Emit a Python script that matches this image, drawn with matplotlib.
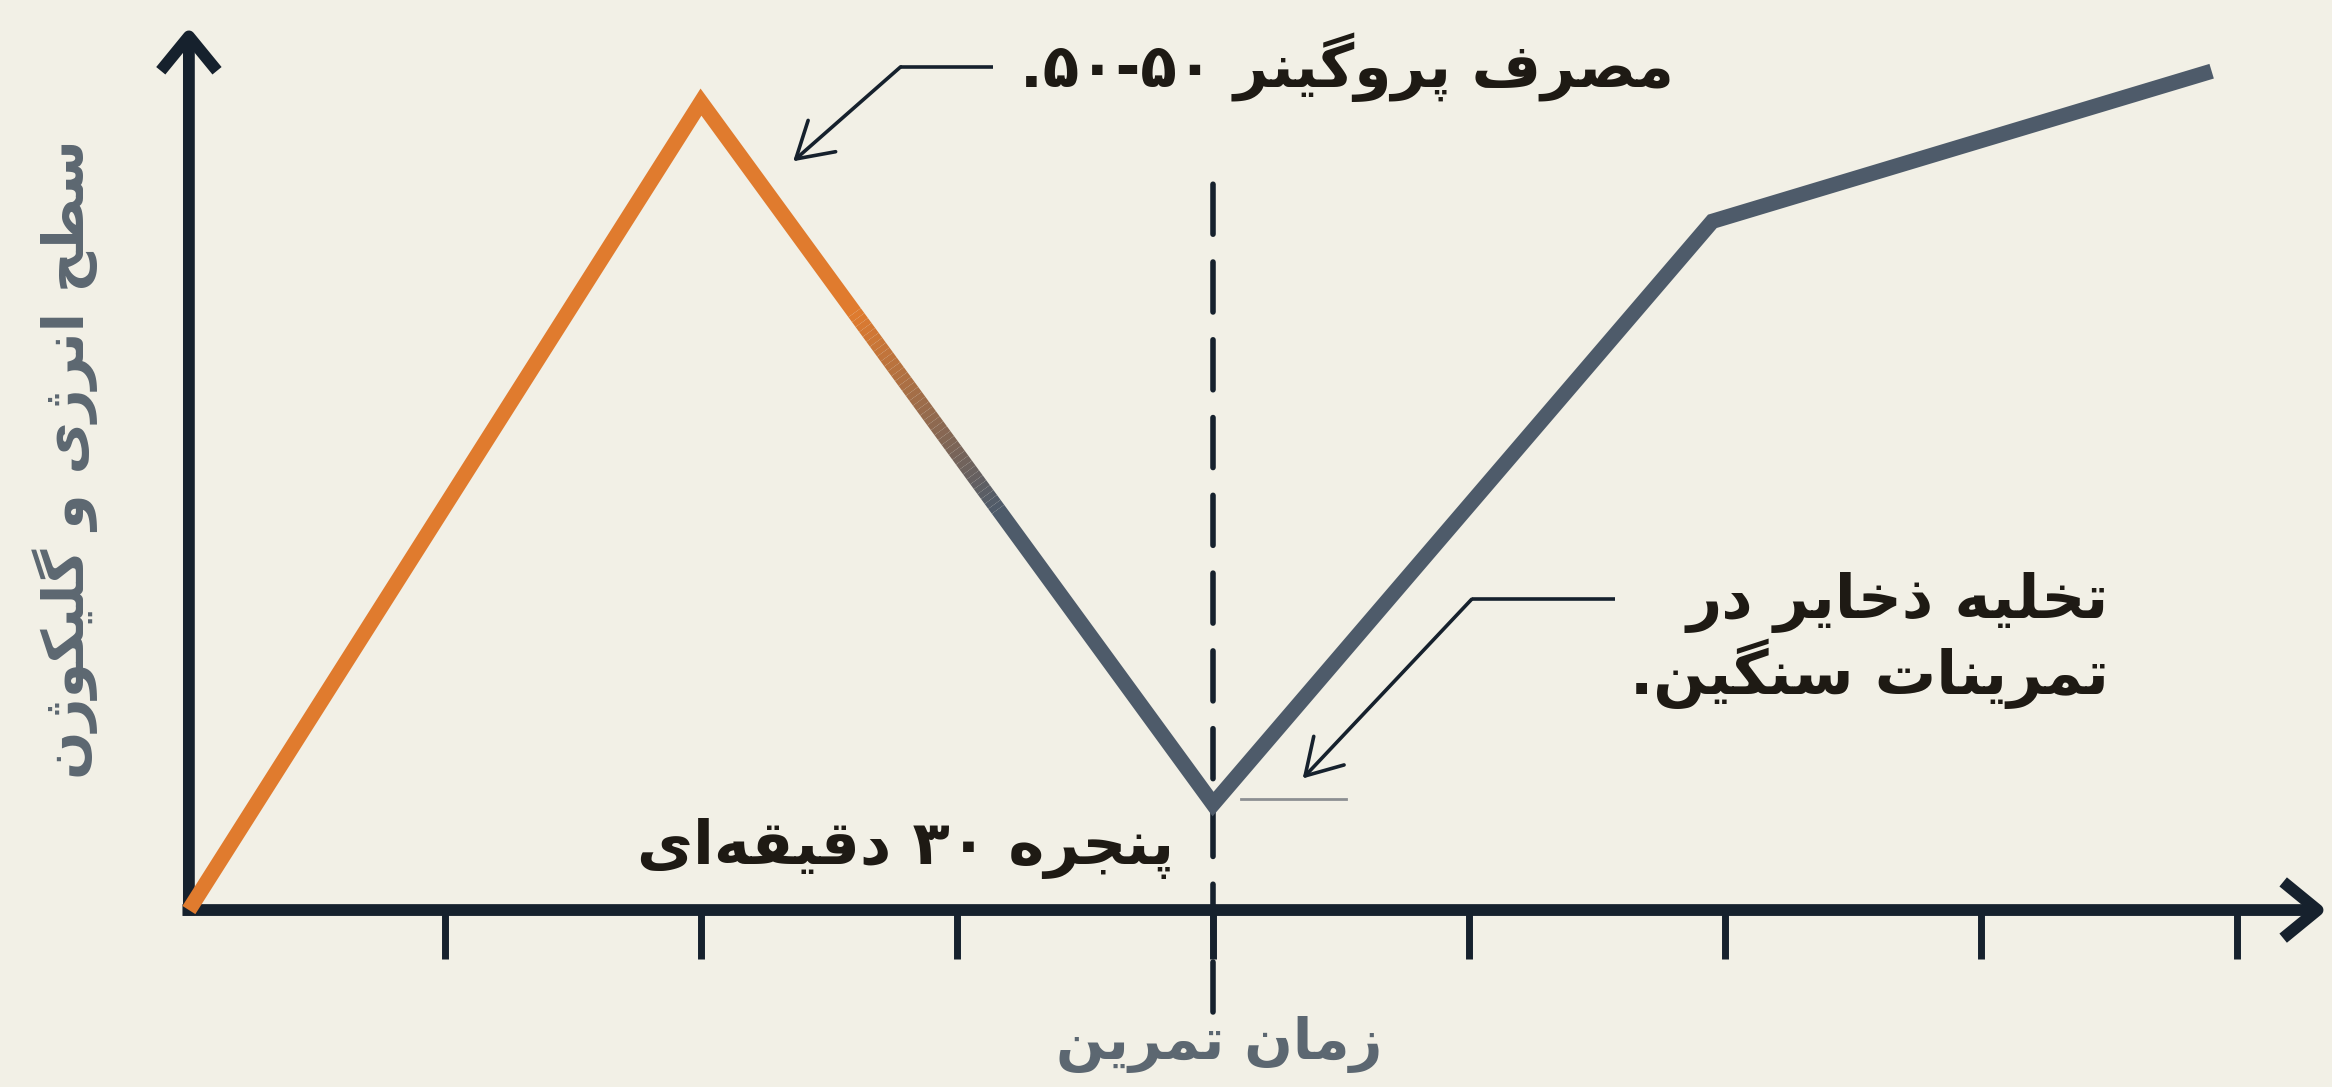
import re
import matplotlib
matplotlib.use("Agg")
import matplotlib.pyplot as plt
from matplotlib.collections import LineCollection
from matplotlib.colors import to_rgb
import numpy as np

# ---- data ----
time_pts = [0, 2, 4, 5.95, 7.9]
energy = [0, 91.5, 12, 78, 95]
tick_pos = [1, 2, 3, 4, 5, 6, 7, 8]
window_x = 4

title_peak = "مصرف پروگینر ۵۰-۵۰."
title_window = "پنجره ۳۰ دقیقه‌ای"
title_drain = ["تخلیه ذخایر در", "تمرینات سنگین."]
xlabel = "زمان تمرین"
ylabel = "سطح انرژی و گلیکوژن"

# colours
bg = "#F2F0E6"
navy = "#16212D"
orange = "#E07B2E"
slate = "#4E5B6A"
label_grey = "#5C6771"
ink = "#1E1A14"

# ---- tiny arabic/persian shaper (no arabic_reshaper available) ----
DUAL = {
    0x0628: (0xFE8F, 0xFE90, 0xFE91, 0xFE92),
    0x067E: (0xFB56, 0xFB57, 0xFB58, 0xFB59),
    0x062A: (0xFE95, 0xFE96, 0xFE97, 0xFE98),
    0x062B: (0xFE99, 0xFE9A, 0xFE9B, 0xFE9C),
    0x062C: (0xFE9D, 0xFE9E, 0xFE9F, 0xFEA0),
    0x0686: (0xFB7A, 0xFB7B, 0xFB7C, 0xFB7D),
    0x062D: (0xFEA1, 0xFEA2, 0xFEA3, 0xFEA4),
    0x062E: (0xFEA5, 0xFEA6, 0xFEA7, 0xFEA8),
    0x0633: (0xFEB1, 0xFEB2, 0xFEB3, 0xFEB4),
    0x0634: (0xFEB5, 0xFEB6, 0xFEB7, 0xFEB8),
    0x0635: (0xFEB9, 0xFEBA, 0xFEBB, 0xFEBC),
    0x0636: (0xFEBD, 0xFEBE, 0xFEBF, 0xFEC0),
    0x0637: (0xFEC1, 0xFEC2, 0xFEC3, 0xFEC4),
    0x0638: (0xFEC5, 0xFEC6, 0xFEC7, 0xFEC8),
    0x0639: (0xFEC9, 0xFECA, 0xFECB, 0xFECC),
    0x063A: (0xFECD, 0xFECE, 0xFECF, 0xFED0),
    0x0641: (0xFED1, 0xFED2, 0xFED3, 0xFED4),
    0x0642: (0xFED5, 0xFED6, 0xFED7, 0xFED8),
    0x06A9: (0xFB8E, 0xFB8F, 0xFB90, 0xFB91),
    0x0643: (0xFED9, 0xFEDA, 0xFEDB, 0xFEDC),
    0x06AF: (0xFB92, 0xFB93, 0xFB94, 0xFB95),
    0x0644: (0xFEDD, 0xFEDE, 0xFEDF, 0xFEE0),
    0x0645: (0xFEE1, 0xFEE2, 0xFEE3, 0xFEE4),
    0x0646: (0xFEE5, 0xFEE6, 0xFEE7, 0xFEE8),
    0x0647: (0xFEE9, 0xFEEA, 0xFEEB, 0xFEEC),
    0x06CC: (0xFBFC, 0xFBFD, 0xFBFE, 0xFBFF),
    0x064A: (0xFEF1, 0xFEF2, 0xFEF3, 0xFEF4),
}
RIGHT = {
    0x0627: (0xFE8D, 0xFE8E),
    0x0622: (0xFE81, 0xFE82),
    0x062F: (0xFEA9, 0xFEAA),
    0x0630: (0xFEAB, 0xFEAC),
    0x0631: (0xFEAD, 0xFEAE),
    0x0632: (0xFEAF, 0xFEB0),
    0x0698: (0xFB8A, 0xFB8B),
    0x0648: (0xFEED, 0xFEEE),
    0x0629: (0xFE93, 0xFE94),
}


def fa(text):
    chars = list(text)
    out = []
    for i, c in enumerate(chars):
        cp = ord(c)
        prev = chars[i - 1] if i > 0 else ""
        nxt = chars[i + 1] if i < len(chars) - 1 else ""
        joinable = cp in DUAL or cp in RIGHT
        conn_prev = prev != "" and ord(prev) in DUAL and joinable
        if cp in DUAL:
            conn_next = nxt != "" and (ord(nxt) in DUAL or ord(nxt) in RIGHT)
            f = DUAL[cp]
            if conn_prev and conn_next:
                out.append(chr(f[3]))
            elif conn_prev:
                out.append(chr(f[1]))
            elif conn_next:
                out.append(chr(f[2]))
            else:
                out.append(chr(f[0]))
        elif cp in RIGHT:
            out.append(chr(RIGHT[cp][1] if conn_prev else RIGHT[cp][0]))
        elif cp == 0x200C:
            continue
        else:
            out.append(c)
    s = "".join(out)[::-1]
    # numbers stay left-to-right
    s = re.sub("[0-9\u06F0-\u06F9]+(?:-[0-9\u06F0-\u06F9]+)*", lambda m: m.group()[::-1], s)
    return s


plt.rcParams["font.family"] = ["DejaVu Sans"]

fig = plt.figure(figsize=(23.32, 10.87), dpi=100, facecolor=bg)
ax = fig.add_axes([0.081, 0.1628, 0.9168, 0.8123])
ax.set_facecolor(bg)
ax.set_xlim(0, 8.35)
ax.set_ylim(0, 100)
for s in ax.spines.values():
    s.set_visible(False)

# axes with arrow heads
arrow_kw = dict(arrowstyle="->,head_length=0.55,head_width=0.45", mutation_scale=45,
                lw=8.5, color=navy, shrinkA=0, shrinkB=0, capstyle="butt")
ax.annotate("", xy=(1, 0), xytext=(-0.003, 0), xycoords="axes fraction", arrowprops=arrow_kw)
ax.annotate("", xy=(0, 1), xytext=(0, -0.006), xycoords="axes fraction", arrowprops=arrow_kw)

ax.set_xticks(tick_pos)
ax.set_yticks([])
ax.tick_params(axis="x", direction="out", length=35, width=5, color=navy,
               labelbottom=False)

# the curve: orange rise, gradient on the way down, slate after
t0, t1 = 0.30, 0.58
x1, y1, x2, y2 = time_pts[1], energy[1], time_pts[2], energy[2]
ga = (x1 + t0 * (x2 - x1), y1 + t0 * (y2 - y1))
gb = (x1 + t1 * (x2 - x1), y1 + t1 * (y2 - y1))
lw = 11
ax.plot([time_pts[0], x1, ga[0]], [energy[0], y1, ga[1]], color=orange, lw=lw,
        solid_joinstyle="miter", solid_capstyle="butt", clip_on=False, zorder=3)
ax.plot([gb[0]] + time_pts[2:], [gb[1]] + energy[2:], color=slate, lw=lw,
        solid_joinstyle="miter", solid_capstyle="butt", clip_on=False, zorder=3)
n = 40
ts = np.linspace(0, 1, n + 1)
gx = ga[0] + ts * (gb[0] - ga[0])
gy = ga[1] + ts * (gb[1] - ga[1])
segs = [[(gx[i], gy[i]), (gx[i + 1], gy[i + 1])] for i in range(n)]
c0, c1 = np.array(to_rgb(orange)), np.array(to_rgb(slate))
cols = [c0 + (c1 - c0) * (i + 0.5) / n for i in range(n)]
ax.add_collection(LineCollection(segs, colors=cols, linewidths=lw, capstyle="butt",
                                 zorder=3, clip_on=False))

# 30-minute window marker
ax.plot([window_x, window_x], [-11.5, 83], color=navy, lw=4, dashes=(9, 5),
        solid_capstyle="round", dash_capstyle="round", clip_on=False, zorder=2)
ax.text(3.85, 7.0, fa(title_window), ha="right", va="center", fontsize=44,
        fontweight="bold", color=ink)

# peak callout
ax.text(5.8, 95.5, fa(title_peak), ha="right", va="center", fontsize=43,
        fontweight="bold", color=ink, clip_on=False)
line_kw = dict(color=navy, lw=2.6, solid_capstyle="butt", clip_on=False)
head_kw = dict(arrowstyle="->,head_length=0.5,head_width=0.3", mutation_scale=50,
               lw=2.6, color=navy, shrinkA=0, shrinkB=0)
ax.plot([3.14, 2.78], [95.5, 95.5], **line_kw)
ax.annotate("", xy=(2.36, 84.8), xytext=(2.78, 95.5), arrowprops=head_kw)

# trough callout
ax.text(7.5, 30.5, "\n".join(fa(t) for t in title_drain), ha="right", va="center",
        multialignment="right", fontsize=44, fontweight="bold", color=ink,
        linespacing=1.1)
ax.plot([5.57, 5.01], [35.2, 35.2], **line_kw)
ax.annotate("", xy=(4.35, 14.9), xytext=(5.01, 35.2), arrowprops=head_kw)
ax.plot([4.11, 4.52], [12.6, 12.6], color="#8C8F92", lw=2, clip_on=False)

# axis labels
fig.text(0.523, 0.039, fa(xlabel), ha="center", va="center", fontsize=41,
         fontweight="bold", color=label_grey)
fig.text(0.028, 0.578, fa(ylabel), ha="center", va="center", rotation=90,
         fontsize=41, fontweight="bold", color=label_grey)

fig.savefig("out.png", dpi=100, facecolor=bg)
plt.close(fig)
